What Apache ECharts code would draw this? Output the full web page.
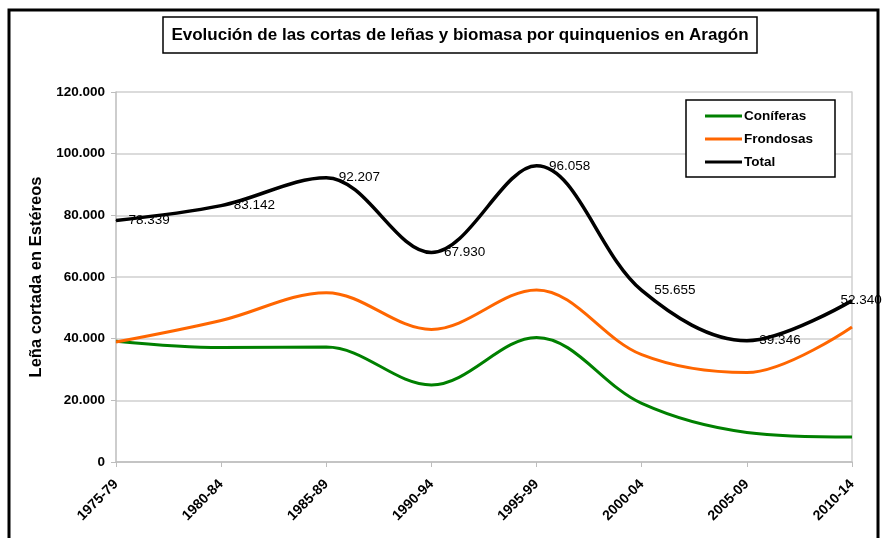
<!DOCTYPE html>
<html><head><meta charset="utf-8">
<script src="https://cdn.jsdelivr.net/npm/echarts@6/dist/echarts.min.js"></script>
<style>html,body{margin:0;padding:0;background:#fff}#c{width:885px;height:538px}</style>
</head><body><div id="c"></div>
<script>
const categories = ['1975-79','1980-84','1985-89','1990-94','1995-99','2000-04','2005-09','2010-14'];
const coniferas = [39200, 37100, 37300, 25000, 40400, 19000, 9600, 8100];
const frondosas = [38900, 45900, 54900, 43000, 55800, 34800, 29000, 43800];
const total = [78339, 83142, 92207, 67930, 96058, 55655, 39346, 52340];
const yTicks = [0, 20000, 40000, 60000, 80000, 100000, 120000];

const fmt = v => String(Math.round(v)).replace(/\B(?=(\d{3})+(?!\d))/g, '.');
const F = 'Liberation Sans, Arial, sans-serif';

const chart = echarts.init(document.getElementById('c'), null, {renderer: 'canvas'});
chart.setOption({
  animation: false,
  backgroundColor: '#fff',
  grid: {left: 116, right: 33, top: 92, bottom: 76},
  graphic: [
    {type: 'rect', shape: {x: 9, y: 10, width: 869, height: 540}, style: {fill: 'none', stroke: '#000', lineWidth: 3}, z: 100},
    {type: 'rect', shape: {x: 163, y: 17, width: 594, height: 36}, style: {fill: '#fff', stroke: '#000', lineWidth: 1.5}, z: 100},
    {type: 'text', x: 460, y: 35, style: {text: 'Evolución de las cortas de leñas y biomasa por quinquenios en Aragón', font: 'bold 17px ' + F, fill: '#000', textAlign: 'center', textVerticalAlign: 'middle'}, z: 101},
    {type: 'rect', shape: {x: 686, y: 100, width: 149, height: 77}, style: {fill: '#fff', stroke: '#000', lineWidth: 1.5}, z: 50}
  ],
  legend: {
    left: 700, top: 104, orient: 'vertical', itemGap: 9,
    icon: 'rect', itemWidth: 37, itemHeight: 3,
    textStyle: {fontFamily: F, fontWeight: 'bold', fontSize: 13.5, color: '#000', padding: [0, 0, 0, -3]},
    data: ['Coníferas', 'Frondosas', 'Total'], z: 60
  },
  xAxis: {
    type: 'category', data: categories, boundaryGap: false,
    axisLine: {lineStyle: {color: '#bdbdbd', width: 1.5}},
    axisTick: {show: true, length: 5, lineStyle: {color: '#bdbdbd'}},
    axisLabel: {rotate: 45, margin: 20, fontFamily: F, fontWeight: 'bold', fontSize: 14, color: '#000'},
    splitLine: {show: false}
  },
  yAxis: [{
    type: 'value', min: 0, max: 120000, interval: 20000,
    name: 'Leña cortada en Estéreos', nameLocation: 'middle', nameGap: 70,
    nameTextStyle: {fontFamily: F, fontWeight: 'bold', fontSize: 16.5, color: '#000'},
    axisLine: {show: true, lineStyle: {color: '#bdbdbd', width: 1.5}},
    axisTick: {show: true, length: 5, lineStyle: {color: '#bdbdbd'}},
    axisLabel: {margin: 11, fontFamily: F, fontWeight: 'bold', fontSize: 13.5, color: '#000',
      formatter: v => yTicks.includes(v) ? fmt(v) : ''},
    splitLine: {lineStyle: {color: '#cfcfcf', width: 1.5}}
  }, {
    type: 'value', min: 0, max: 120000, interval: 20000, position: 'right',
    axisLine: {show: true, lineStyle: {color: '#cfcfcf', width: 1.5}},
    axisTick: {show: false}, axisLabel: {show: false}, splitLine: {show: false}
  }],
  series: [
    {name: 'Coníferas', type: 'line', data: coniferas, smooth: 0.35, showSymbol: false, symbol: 'none',
      itemStyle: {color: '#008000'}, lineStyle: {color: '#008000', width: 3}},
    {name: 'Frondosas', type: 'line', data: frondosas, smooth: 0.35, showSymbol: false, symbol: 'none',
      itemStyle: {color: '#ff6600'}, lineStyle: {color: '#ff6600', width: 3}},
    {name: 'Total', type: 'line', smooth: 0.35, symbol: 'circle', symbolSize: 1, showSymbol: true,
      itemStyle: {color: '#000'}, lineStyle: {color: '#000', width: 3.5},
      label: {show: true, position: 'right', distance: 12, fontFamily: F, fontSize: 13.5, color: '#000',
        formatter: p => fmt(p.value)},
      data: total.map((v, i) => i === total.length - 1 ? {value: v, label: {offset: [-24, 0]}} : v)
    }
  ]
});
</script></body></html>
